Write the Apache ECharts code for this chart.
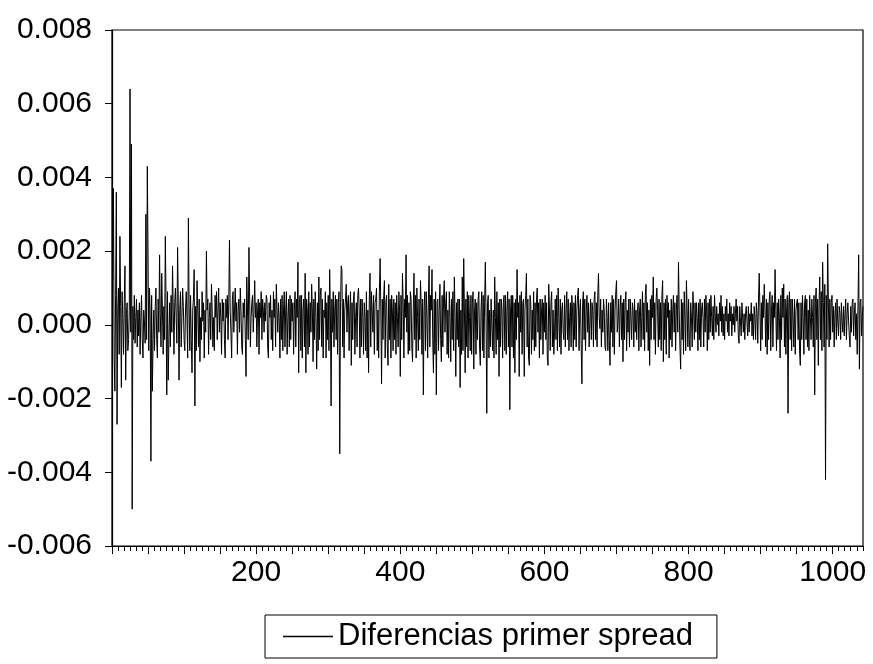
<!DOCTYPE html>
<html><head><meta charset="utf-8">
<script src="https://cdn.jsdelivr.net/npm/echarts@6/dist/echarts.min.js"></script>
<style>html,body{margin:0;padding:0;background:#fff}#chart{width:873px;height:664px}</style>
</head><body><div id="chart"></div>
<script>
const seriesName = 'Diferencias primer spread';
// observation i+1 -> spreadDiff[i]
const spreadDiff = [
0.0012,0.0037,-0.0009,-0.0018,0.0008,0.0036,-0.0027,0.0004,0.0010,-0.0008,
0.0024,0.0005,-0.0017,0.0009,0.0002,-0.0008,0.0006,0.0016,-0.0015,0.0003,
0.0006,-0.0007,-0.0004,0.0004,0.0064,-0.0002,0.0049,-0.0050,0.0005,-0.0004,
0.0008,-0.0005,0.0002,0.0007,-0.0006,0.0004,-0.0003,0.0006,-0.0008,0.0002,
0.0008,-0.0004,-0.0009,0.0004,0.0001,-0.0005,0.0030,-0.0004,0.0043,0.0019,
-0.0007,0.0010,0.0003,-0.0037,0.0008,-0.0018,-0.0004,0.0004,-0.0007,0.0005,
0.0010,-0.0004,-0.0009,0.0007,-0.0002,0.0019,0.0003,-0.0006,0.0014,0.0004,
-0.0008,0.0005,-0.0004,0.0024,0.0006,-0.0019,0.0009,-0.0015,-0.0004,0.0006,
-0.0006,0.0008,-0.0002,0.0016,0.0004,-0.0008,0.0006,0.0010,0.0002,-0.0005,
0.0021,0.0006,-0.0015,0.0004,0.0009,-0.0006,0.0002,0.0010,0.0005,-0.0004,
-0.0007,0.0004,0.0009,0.0002,-0.0009,0.0029,0.0005,-0.0007,0.0008,-0.0004,
-0.0013,0.0004,0.0007,0.0015,-0.0022,0.0005,-0.0007,0.0012,0.0004,-0.0006,
0.0007,-0.0010,0.0002,-0.0004,0.0009,0.0001,0.0006,-0.0009,0.0004,-0.0002,
0.0020,0.0004,0.0007,-0.0008,0.0002,0.0006,-0.0004,0.0011,0.0004,-0.0006,
0.0002,-0.0007,0.0008,0.0002,0.0009,-0.0004,0.0004,0.0010,-0.0002,0.0006,
0.0002,-0.0008,0.0007,0.0001,0.0006,-0.0004,-0.0009,0.0007,0.0002,0.0008,
-0.0004,0.0006,0.0023,0.0004,-0.0002,-0.0009,0.0007,0.0009,-0.0002,0.0004,
0.0010,0.0001,0.0006,-0.0008,0.0004,0.0007,-0.0002,0.0010,0.0004,-0.0006,
-0.0008,0.0006,0.0002,0.0007,-0.0004,-0.0014,0.0013,0.0004,-0.0004,0.0021,
0.0007,-0.0006,0.0002,0.0006,0.0008,-0.0002,0.0004,0.0012,0.0002,0.0006,
-0.0006,0.0004,0.0007,-0.0008,0.0006,0.0002,0.0009,-0.0004,0.0007,0.0004,
-0.0002,0.0006,0.0001,0.0008,0.0007,-0.0006,-0.0009,0.0006,0.0002,0.0008,
-0.0004,0.0004,-0.0007,0.0009,0.0002,0.0007,-0.0006,0.0011,0.0004,-0.0002,
0.0006,0.0002,-0.0009,0.0007,-0.0004,0.0008,-0.0007,0.0004,0.0009,-0.0006,
0.0004,0.0009,-0.0008,0.0002,0.0007,-0.0006,0.0008,-0.0004,0.0007,0.0001,
0.0006,-0.0008,0.0004,0.0009,-0.0006,0.0007,0.0002,0.0017,-0.0013,0.0006,
0.0008,-0.0007,0.0008,-0.0009,0.0004,0.0007,-0.0006,0.0014,-0.0013,0.0007,
0.0004,-0.0008,0.0009,-0.0006,0.0006,-0.0002,0.0011,0.0004,-0.0010,0.0007,
-0.0004,0.0009,0.0002,-0.0012,0.0006,-0.0007,0.0013,-0.0004,0.0008,0.0010,
-0.0006,0.0007,-0.0009,0.0004,0.0002,0.0009,-0.0009,0.0006,-0.0004,0.0008,
-0.0007,0.0015,0.0004,-0.0022,0.0007,-0.0002,0.0009,-0.0006,0.0004,0.0008,
-0.0004,0.0007,-0.0008,0.0006,0.0009,-0.0035,0.0004,0.0016,0.0015,-0.0006,
0.0007,-0.0009,0.0004,0.0007,0.0011,-0.0002,0.0006,0.0008,-0.0007,0.0004,
0.0009,-0.0011,0.0006,-0.0004,0.0007,0.0009,-0.0008,0.0002,0.0006,-0.0006,
0.0008,0.0010,0.0004,-0.0009,0.0007,-0.0006,0.0007,0.0002,-0.0008,0.0006,
0.0002,-0.0007,0.0009,-0.0009,0.0004,-0.0013,0.0007,0.0014,-0.0006,0.0009,
0.0004,-0.0002,0.0008,-0.0008,0.0006,0.0007,0.0010,-0.0007,0.0004,-0.0009,
0.0009,0.0018,0.0004,-0.0016,0.0007,-0.0004,0.0008,0.0012,-0.0009,0.0006,
0.0008,-0.0006,-0.0011,0.0011,-0.0004,0.0007,-0.0009,0.0008,0.0004,-0.0007,
0.0007,-0.0004,0.0006,-0.0008,0.0008,0.0002,-0.0006,0.0009,0.0004,-0.0014,
0.0008,-0.0004,0.0014,0.0006,-0.0009,0.0007,0.0002,0.0019,-0.0002,0.0008,
-0.0008,0.0006,-0.0007,0.0009,0.0007,-0.0006,-0.0010,0.0004,0.0014,-0.0004,
0.0008,-0.0009,0.0010,0.0002,-0.0007,0.0007,-0.0004,0.0012,0.0006,-0.0008,
0.0007,-0.0019,0.0004,0.0009,-0.0007,0.0009,0.0002,-0.0009,0.0007,0.0016,
-0.0006,0.0008,0.0004,0.0015,-0.0004,-0.0013,0.0007,-0.0008,0.0009,-0.0019,
0.0006,0.0007,-0.0007,0.0004,0.0011,-0.0004,-0.0010,0.0008,-0.0006,0.0007,
0.0012,-0.0002,0.0006,0.0009,-0.0008,0.0004,-0.0009,0.0009,0.0002,-0.0010,
0.0007,-0.0004,0.0009,-0.0007,0.0013,0.0002,-0.0014,0.0006,-0.0004,0.0007,
-0.0006,0.0007,-0.0017,0.0004,-0.0008,0.0013,-0.0007,0.0018,0.0004,-0.0013,
0.0007,-0.0006,0.0009,-0.0009,0.0008,0.0002,-0.0007,0.0008,-0.0008,0.0006,
0.0009,-0.0012,0.0004,0.0007,-0.0008,0.0006,-0.0004,0.0007,0.0009,-0.0006,
-0.0011,0.0004,0.0009,-0.0007,0.0008,-0.0009,0.0006,0.0017,0.0002,-0.0024,
0.0006,0.0008,-0.0009,0.0004,-0.0006,0.0007,0.0007,-0.0007,0.0004,-0.0009,
0.0013,0.0002,-0.0008,0.0009,-0.0004,0.0006,-0.0014,0.0007,-0.0006,0.0007,
0.0004,-0.0009,0.0006,0.0008,-0.0007,0.0008,-0.0008,0.0004,0.0009,-0.0006,
0.0007,-0.0023,0.0004,0.0008,-0.0006,0.0008,-0.0009,0.0006,-0.0013,0.0007,
-0.0004,0.0015,0.0002,0.0006,-0.0014,0.0008,-0.0002,0.0009,-0.0008,0.0006,
0.0007,-0.0014,0.0004,0.0008,0.0014,-0.0006,0.0007,-0.0009,-0.0011,0.0008,
0.0006,-0.0008,0.0004,-0.0004,0.0009,-0.0007,0.0006,-0.0006,0.0007,0.0010,
-0.0002,0.0006,-0.0009,0.0007,-0.0004,0.0004,0.0007,-0.0008,0.0006,-0.0002,
0.0008,-0.0004,0.0006,-0.0009,-0.0011,0.0011,0.0004,-0.0007,0.0006,0.0009,
-0.0006,0.0004,-0.0008,-0.0002,0.0007,-0.0004,0.0008,-0.0007,0.0010,0.0002,
-0.0006,0.0007,-0.0008,0.0004,0.0006,-0.0002,-0.0004,0.0008,-0.0006,0.0004,
0.0009,-0.0004,0.0007,-0.0007,0.0002,0.0006,-0.0006,0.0008,0.0004,-0.0007,
0.0006,-0.0004,0.0008,-0.0006,0.0004,0.0008,0.0010,-0.0007,0.0004,0.0007,
-0.0006,-0.0016,0.0006,0.0009,-0.0004,0.0007,-0.0007,0.0004,0.0008,-0.0002,
0.0006,-0.0006,0.0001,0.0007,-0.0004,0.0006,0.0004,-0.0006,0.0007,0.0009,
-0.0004,0.0006,-0.0006,0.0008,0.0014,0.0002,-0.0001,0.0007,-0.0006,0.0004,
-0.0002,0.0007,0.0004,-0.0006,-0.0007,0.0007,0.0002,-0.0007,0.0006,-0.0004,
-0.0011,0.0006,-0.0002,0.0008,-0.0006,0.0007,-0.0008,0.0004,0.0009,0.0012,
-0.0002,0.0001,0.0007,-0.0006,0.0004,0.0008,-0.0004,0.0006,-0.0010,0.0007,
-0.0004,0.0006,0.0009,-0.0007,0.0004,-0.0002,0.0007,-0.0006,0.0007,0.0002,
-0.0004,0.0006,0.0004,-0.0006,0.0007,-0.0002,0.0004,-0.0004,0.0004,0.0006,
-0.0007,0.0004,0.0007,-0.0006,0.0002,0.0009,-0.0004,0.0006,-0.0007,0.0008,
0.0011,-0.0002,0.0006,-0.0007,0.0004,-0.0011,0.0007,-0.0004,0.0008,0.0002,
0.0013,-0.0004,0.0006,-0.0008,0.0007,0.0010,0.0004,-0.0006,0.0007,-0.0004,
0.0006,-0.0007,0.0008,0.0012,-0.0010,0.0006,-0.0004,0.0007,-0.0008,0.0008,
0.0002,0.0006,-0.0009,0.0004,-0.0004,0.0007,-0.0006,0.0004,0.0008,-0.0002,
0.0006,-0.0007,0.0004,0.0008,-0.0002,0.0017,0.0004,-0.0006,-0.0012,0.0007,
-0.0004,0.0006,-0.0008,0.0009,0.0002,-0.0007,0.0012,0.0004,-0.0006,0.0007,
-0.0004,-0.0007,0.0006,0.0002,-0.0006,0.0009,0.0004,-0.0004,0.0006,-0.0002,
0.0006,0.0002,-0.0007,0.0006,-0.0004,0.0007,-0.0006,0.0004,0.0006,0.0002,
-0.0006,0.0007,-0.0002,0.0008,0.0004,-0.0007,0.0006,-0.0004,0.0007,-0.0002,
0.0008,0.0002,-0.0003,0.0005,-0.0004,0.0008,0.0003,-0.0002,0.0005,0,
0.0003,-0.0003,0.0006,0.0001,0.0008,-0.0002,0.0005,-0.0003,0.0003,-0.0004,
0.0005,0.0001,0.0007,-0.0002,0.0003,-0.0003,0.0006,0.0001,0.0005,-0.0003,
0.0003,0,0.0005,-0.0002,0.0003,0.0007,0.0001,0.0005,-0.0003,-0.0005,
0.0005,0.0001,-0.0003,0.0006,0.0006,-0.0002,0.0003,-0.0004,0.0003,0.0005,
0.0001,-0.0003,0.0005,-0.0002,0.0003,0.0001,0.0006,-0.0003,0.0003,-0.0004,
0.0005,0.0002,-0.0004,0.0006,0.0003,-0.0005,0.0007,0.0014,0.0004,-0.0007,
0.0006,-0.0004,0.0008,0.0002,0.0011,0.0004,-0.0006,0.0007,-0.0008,0.0006,
-0.0004,0.0007,0.0009,-0.0007,0.0004,0.0008,-0.0006,0.0006,0.0002,0.0015,
0.0004,-0.0007,0.0006,-0.0004,0.0007,0.0002,-0.0009,0.0008,-0.0004,0.0010,
0.0002,0.0011,-0.0006,0.0007,-0.0008,0.0004,0.0008,-0.0024,0.0006,0.0009,
-0.0004,0.0007,-0.0007,0.0007,0.0002,-0.0006,0.0007,-0.0008,0.0004,0.0006,
0.0007,-0.0004,0.0006,-0.0007,-0.0011,0.0006,-0.0004,0.0008,0.0002,-0.0008,
0.0006,0.0008,-0.0004,0.0007,-0.0006,0.0004,-0.0007,0.0008,0.0002,-0.0004,
0.0007,0.0002,-0.0006,0.0008,-0.0019,0.0006,0.0010,-0.0004,0.0007,-0.0011,
0.0006,0.0013,-0.0004,0.0009,-0.0007,0.0017,0.0006,-0.0006,0.0011,-0.0042,
0.0008,-0.0004,0.0022,0.0006,-0.0006,0.0007,-0.0004,0.0006,0.0008,-0.0002,
0.0005,-0.0006,0.0003,0.0006,-0.0004,0.0007,0.0001,-0.0003,0.0005,0.0003,
-0.0004,0.0006,0.0001,-0.0002,0.0005,-0.0003,0.0003,0.0007,-0.0004,0.0003,
0.0006,0.0001,-0.0003,-0.0006,0.0005,-0.0002,0.0006,0.0007,-0.0003,0.0003,
0.0006,-0.0004,0.0003,-0.0008,0.0005,0.0019,-0.0012,0.0006,0.0007,-0.0003,
0.0002,0.0005
];
const yTickValues = [-0.006, -0.004, -0.002, 0, 0.002, 0.004, 0.006, 0.008];
const xLabelValues = [200, 400, 600, 800, 1000];
const xMajorTickValues = [0,50,100,150,200,250,300,350,400,450,500,550,600,650,700,750,800,850,900,950,1000];

const xMinorTickValues = [];
for (let t = 0; t <= 1042; t += 50 / 6) xMinorTickValues.push(t);

const FONT = "'Liberation Sans', Arial, Helvetica, sans-serif";
const chart = echarts.init(document.getElementById('chart'), null, {renderer: 'canvas'});
chart.setOption({
  animation: false,
  backgroundColor: '#ffffff',
  textStyle: {fontFamily: FONT, color: '#000'},
  grid: {left: 112, right: 10, top: 30, bottom: 118, show: true, borderColor: '#000', borderWidth: 1.2, backgroundColor: 'transparent'},
  legend: {
    show: true,
    data: [seriesName],
    left: 265, top: 615,
    orient: 'horizontal',
    borderColor: '#000', borderWidth: 1,
    padding: [6, 24, 6, 18],
    itemWidth: 50, itemHeight: 1.6, icon: 'rect',
    itemStyle: {color: '#000'},
    textStyle: {fontFamily: FONT, fontSize: 31, color: '#000'}
  },
  xAxis: [{
    type: 'value', min: 0, max: 1042,
    axisLine: {show: true, onZero: false, lineStyle: {color: '#000', width: 1.2}},
    axisTick: {show: true, inside: false, length: 8, customValues: xMajorTickValues, lineStyle: {color: '#000', width: 1}},
    axisLabel: {show: true, customValues: xLabelValues, margin: 12, fontSize: 30, color: '#000', fontFamily: FONT, formatter: v => String(Math.round(v))},
    splitLine: {show: false}
  }, {
    type: 'value', min: 0, max: 1042, position: 'bottom',
    axisLine: {show: false, onZero: false},
    axisTick: {show: true, inside: false, length: 5, customValues: xMinorTickValues, lineStyle: {color: '#000', width: 1}},
    axisLabel: {show: false},
    splitLine: {show: false}
  }],
  yAxis: {
    type: 'value', min: -0.006, max: 0.008, interval: 0.002,
    axisLine: {show: true, onZero: false, lineStyle: {color: '#000', width: 1.2}},
    axisTick: {show: true, inside: false, length: 7, lineStyle: {color: '#000', width: 1}},
    axisLabel: {margin: 20, fontSize: 30, color: '#000', fontFamily: FONT, formatter: v => v.toFixed(3)},
    splitLine: {show: false}
  },
  series: [{
    name: seriesName,
    type: 'line',
    xAxisIndex: 0,
    data: spreadDiff.map((v, i) => [i + 1, v]),
    showSymbol: false, symbol: 'none',
    lineStyle: {color: '#000', width: 1},
    itemStyle: {color: '#000'},
    silent: true
  }]
});
</script>
</body></html>
